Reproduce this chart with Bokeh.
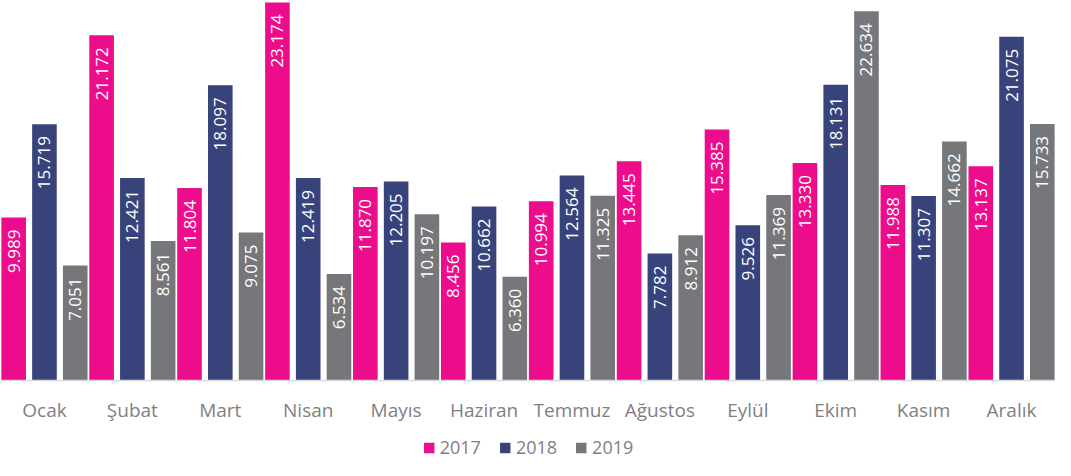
import math
from bokeh.plotting import figure
from bokeh.models import ColumnDataSource, Range1d, Legend, LegendItem, Span
from bokeh.transform import dodge
from bokeh.core.properties import value
from bokeh.embed import file_html
from bokeh.resources import INLINE

months = ["Ocak", "Şubat", "Mart", "Nisan", "Mayıs", "Haziran", "Temmuz",
          "Ağustos", "Eylül", "Ekim", "Kasım", "Aralık"]
v2017 = [9.989, 21.172, 11.804, 23.174, 11.870, 8.456, 10.994, 13.445, 15.385, 13.330, 11.988, 13.137]
v2018 = [15.719, 12.421, 18.097, 12.419, 12.205, 10.662, 12.564, 7.782, 9.526, 18.131, 11.307, 21.075]
v2019 = [7.051, 8.561, 9.075, 6.534, 10.197, 6.360, 11.325, 8.912, 11.369, 22.634, 14.662, 15.733]
series = ["2017", "2018", "2019"]
colors = ["#EC0C8C", "#37437A", "#76777B"]

fmt = lambda v: "{:.3f}".format(v)
src = ColumnDataSource(dict(
    month=months,
    zero=[0] * len(months),
    v2017=v2017, v2018=v2018, v2019=v2019,
    l2017=[fmt(v) for v in v2017],
    l2018=[fmt(v) for v in v2018],
    l2019=[fmt(v) for v in v2019],
))

FONT = "Open Sans"
W, H = 1055, 460
BASE_PX = 380          # distance of the zero line from the top of the frame
YMAX = 23.3
YMIN = -YMAX * (H - BASE_PX) / BASE_PX

p = figure(x_range=months, y_range=Range1d(YMIN, YMAX),
           frame_width=W, frame_height=H,
           min_border_left=0, min_border_right=0, min_border_top=0,
           min_border_bottom=0,
           output_backend="svg", toolbar_location=None)

offsets = [-0.35, 0.0, 0.35]
renderers = []
for s, c, off in zip(series, colors, offsets):
    r = p.vbar(x=dodge("month", off, range=p.x_range), top="v" + s, bottom=0,
               width=0.28, source=src, color=c, line_color=None)
    renderers.append(r)
    p.text(x=dodge("month", off, range=p.x_range), y="v" + s, text="l" + s,
           angle=math.pi / 2, text_align="right", text_baseline="middle",
           y_offset=12, text_color="white", text_font=value(FONT),
           text_font_size="17px", source=src)

# baseline and category labels
p.add_layout(Span(location=0, dimension="width", line_color="#D9D9D9", line_width=1.5))
p.text(x="month", y="zero", text="month", text_align="center", text_baseline="middle",
       y_offset=29, text_color="#7F7F7F", text_font=value(FONT),
       text_font_size="19px", source=src)

p.xaxis.visible = False
p.yaxis.visible = False
p.xgrid.grid_line_color = None
p.ygrid.grid_line_color = None
p.outline_line_color = None
p.x_range.range_padding = 0
p.x_range.group_padding = 0

legend = Legend(items=[LegendItem(label=s, renderers=[r]) for s, r in zip(series, renderers)],
                orientation="horizontal", location="bottom_center",
                glyph_width=13, glyph_height=13, label_standoff=5, spacing=17,
                label_text_font=FONT, label_text_font_size="18px",
                label_text_color="#7F7F7F", border_line_color=None,
                background_fill_alpha=0, padding=0, margin=1)
p.add_layout(legend, "center")

open("out.html", "w").write(file_html(p, INLINE))
